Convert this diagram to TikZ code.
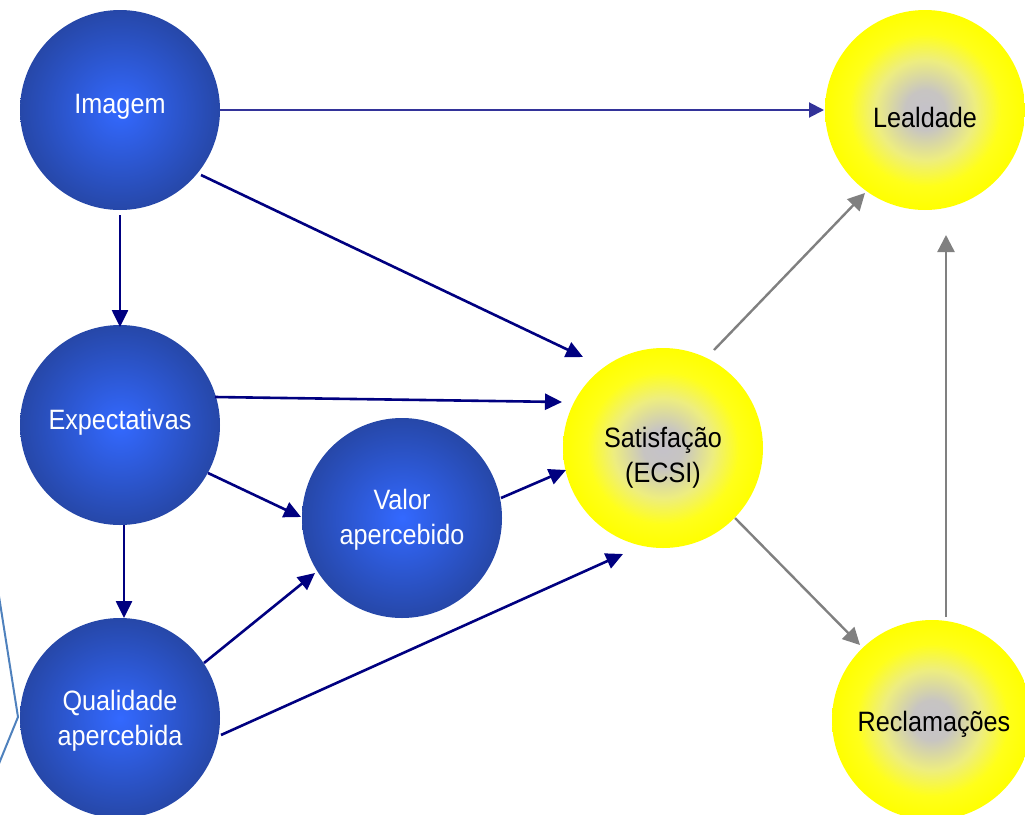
\documentclass[tikz,border=0pt]{standalone}
\usepackage{fontspec}
\setmainfont{Liberation Sans}[FakeStretch=0.9]
\usetikzlibrary{arrows.meta}
\definecolor{navyline}{HTML}{000080}
\definecolor{topline}{HTML}{333399}
\definecolor{arrowgray}{HTML}{808080}
\definecolor{sideline}{HTML}{4F81BD}
\pgfdeclareradialshading{blueball}{\pgfpoint{0bp}{0bp}}{rgb(0bp)=(0.2,0.41,1);rgb(25bp)=(0.15,0.28,0.66);rgb(50bp)=(0.15,0.28,0.66)}
\pgfdeclareradialshading{yellowball}{\pgfpoint{0bp}{0bp}}{rgb(0bp)=(0.77,0.76,0.79);rgb(5bp)=(0.78,0.77,0.76);rgb(12.5bp)=(0.93,0.93,0.5);rgb(19bp)=(1,1,0.1);rgb(25bp)=(1,1,0);rgb(50bp)=(1,1,0)}
\begin{document}
\begin{tikzpicture}[x=1pt,y=-1pt,
  ball/.style={circle,minimum size=200pt,inner sep=0pt,outer sep=0pt},
  bluenode/.style={ball,shading=blueball},
  yellownode/.style={ball,shading=yellowball},
  labtext/.style={align=center,inner sep=0pt,font=\fontsize{28}{35}\selectfont},
  whitetext/.style={labtext,text=white},
  blacktext/.style={labtext,text=black},
  navyarrow/.style={draw=navyline,line width=2.6pt,-{Triangle[length=17pt,width=16pt]}},
  toparrow/.style={draw=topline,line width=2pt,-{Triangle[length=15pt,width=15pt]}},
  grayarrow/.style={draw=arrowgray,line width=2.4pt,-{Triangle[length=17pt,width=17pt]}},
  sidestyle/.style={draw=sideline,line width=2pt}
]
\clip (0,0) rectangle (1025,814);
% left side line
\coordinate (s1) at (-2,590);
\coordinate (s2) at (18,717);
\coordinate (s3) at (-2,766);
\draw[sidestyle] (s1) -- (s2) -- (s3);
% nodes
\node[bluenode,label={[whitetext,yshift=3pt]center:Imagem}] (img) at (120,110) {};
\node[bluenode,label={[whitetext,yshift=3pt]center:Expectativas}] (exp) at (120,425) {};
\node[bluenode,label={[whitetext,yshift=-3pt]center:Qualidade\\apercebida}] (qual) at (120,718) {};
\node[bluenode,label={[whitetext,yshift=-2pt]center:Valor\\apercebido}] (val) at (402,518) {};
\node[yellownode,label={[blacktext,yshift=-10pt]center:Satisfação\\(ECSI)}] (sat) at (663,448) {};
\node[yellownode,label={[blacktext,yshift=-7pt]center:Lealdade}] (lea) at (925,110) {};
\node[yellownode,label={[blacktext,yshift=-4pt,xshift=2pt]center:Reclamações}] (rec) at (932,720) {};
% connectors
\draw[toparrow] (img.east) -- ([shift={(-1,0)}]lea.west);
\draw[navyarrow] ([shift={(0,105)}]img.center) -- ([shift={(0,-98)}]exp.center);
\draw[navyarrow] ([shift={(4,100)}]exp.center) -- ([shift={(4,-100)}]qual.center);
\draw[navyarrow] ([shift={(81,65)}]img.center) -- ([shift={(-80,-91)}]sat.center);
\draw[navyarrow] ([shift={(95,-28)}]exp.center) -- ([shift={(-101,-46)}]sat.center);
\draw[navyarrow] ([shift={(88,48)}]exp.center) -- ([shift={(-101,-1)}]val.center);
\draw[navyarrow] ([shift={(84,-55)}]qual.center) -- ([shift={(-87,55)}]val.center);
\draw[navyarrow] ([shift={(99,-20)}]val.center) -- ([shift={(-97,22)}]sat.center);
\draw[navyarrow] ([shift={(101,17)}]qual.center) -- ([shift={(-40,106)}]sat.center);
\draw[grayarrow] ([shift={(51,-98)}]sat.center) -- ([shift={(-60,83)}]lea.center);
\draw[grayarrow] ([shift={(72,70)}]sat.center) -- ([shift={(-72,-75)}]rec.center);
\draw[grayarrow] ([shift={(14,-103)}]rec.center) -- ([shift={(21,125)}]lea.center);
\end{tikzpicture}
\end{document}
